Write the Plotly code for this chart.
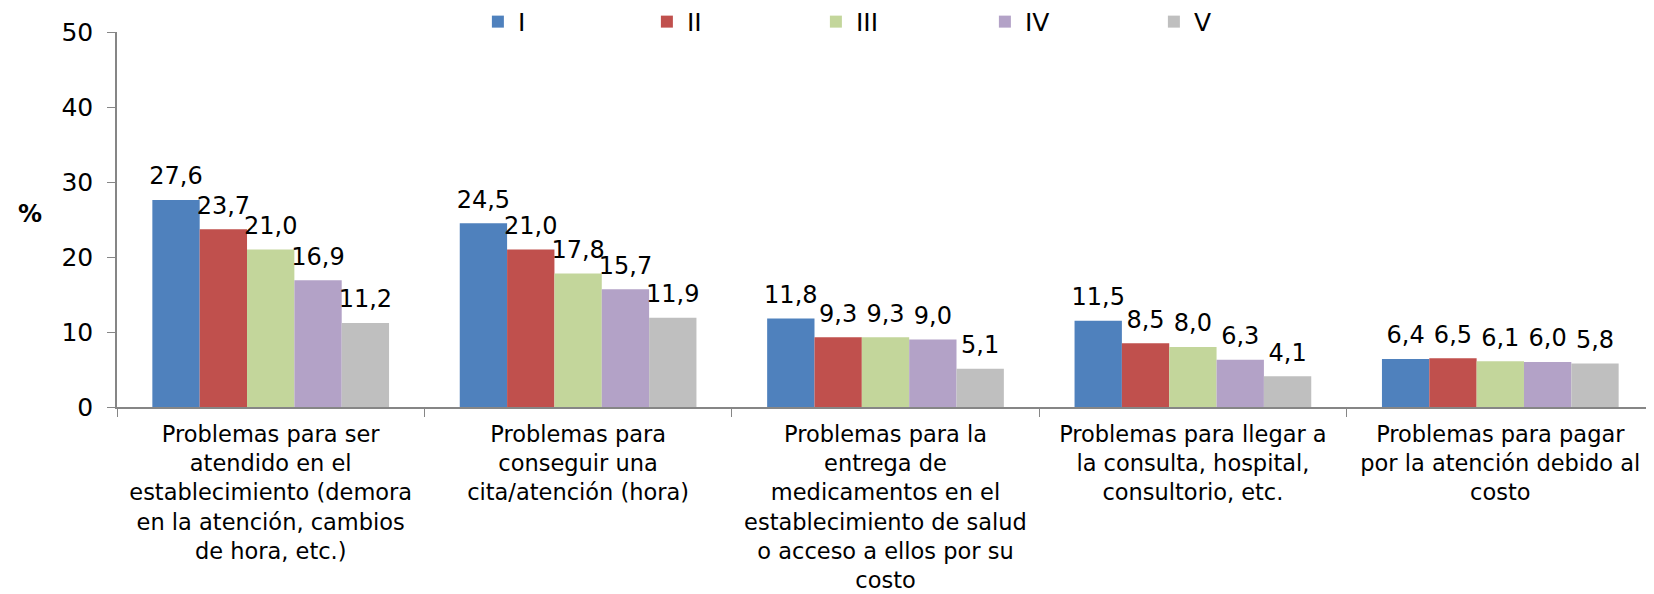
import plotly.graph_objects as go

# categorías (eje X)
categorias = [
    "Problemas para ser<br>atendido en el<br>establecimiento (demora<br>en la atención, cambios<br>de hora, etc.)",
    "Problemas para<br>conseguir una<br>cita/atención (hora)",
    "Problemas para la<br>entrega de<br>medicamentos en el<br>establecimiento de salud<br>o acceso a ellos por su<br>costo",
    "Problemas para llegar a<br>la consulta, hospital,<br>consultorio, etc.",
    "Problemas para pagar<br>por la atención debido al<br>costo",
]

# quintiles
quintiles = ["I", "II", "III", "IV", "V"]

q1 = [27.6, 24.5, 11.8, 11.5, 6.4]
q2 = [23.7, 21.0, 9.3, 8.5, 6.5]
q3 = [21.0, 17.8, 9.3, 8.0, 6.1]
q4 = [16.9, 15.7, 9.0, 6.3, 6.0]
q5 = [11.2, 11.9, 5.1, 4.1, 5.8]

y_ticks = [0, 10, 20, 30, 40, 50]

colores = ["#4F81BD", "#C0504D", "#C3D69B", "#B3A2C7", "#BFBFBF"]

FONT = "DejaVu Sans"
GAP = 0.23

fig = go.Figure()
for nombre, valores, color in zip(quintiles, [q1, q2, q3, q4, q5], colores):
    fig.add_trace(go.Bar(
        x=categorias,
        y=valores,
        name=nombre,
        marker=dict(color=color, line=dict(width=0)),
        hoverinfo="skip",
    ))

# etiquetas de datos (agrupadas igual que las barras)
for nombre, valores in zip(quintiles, [q1, q2, q3, q4, q5]):
    fig.add_trace(go.Scatter(
        x=categorias,
        y=valores,
        mode="markers+text",
        marker=dict(size=14, opacity=0),
        text=[f"{v:.1f}".replace(".", ",") for v in valores],
        textposition="top center",
        textfont=dict(family=FONT, size=24, color="#000000"),
        showlegend=False,
        cliponaxis=False,
        hoverinfo="skip",
    ))

# la página deja 8 px de margen alrededor del gráfico
fig.update_layout(
    width=1646,
    height=586,
    barmode="group",
    bargap=GAP,
    bargroupgap=0,
    scattermode="group",
    scattergap=GAP,
    plot_bgcolor="white",
    paper_bgcolor="white",
    font=dict(family=FONT, color="#000000"),
    margin=dict(l=109, r=0, t=24, b=187, autoexpand=False),
    legend=dict(
        orientation="h",
        x=0.2348, y=1.027,
        xanchor="left", yanchor="middle",
        font=dict(family=FONT, size=25),
        entrywidth=124,
        entrywidthmode="pixels",
        bgcolor="rgba(0,0,0,0)",
    ),
    showlegend=True,
)

fig.update_yaxes(
    range=[0, 50],
    tickvals=y_ticks,
    showgrid=False,
    showline=True,
    linecolor="#868686",
    linewidth=1.5,
    ticks="outside",
    ticklen=8,
    tickcolor="#868686",
    tickfont=dict(family=FONT, size=25),
    ticklabelstandoff=9,
    zeroline=False,
    automargin=False,
)

fig.update_xaxes(
    showgrid=False,
    showline=True,
    linecolor="#868686",
    linewidth=1.5,
    ticks="outside",
    tickson="boundaries",
    ticklen=8,
    tickcolor="#868686",
    tickfont=dict(family=FONT, size=22.5),
    ticklabelstandoff=6,
    tickangle=0,
    automargin=False,
)

fig.add_annotation(
    text="<b>%</b>", x=-87 / 1537, y=0.515,
    xref="paper", yref="paper",
    xanchor="center", yanchor="middle",
    showarrow=False,
    font=dict(family=FONT, size=24),
)

fig.write_html("out.html")
